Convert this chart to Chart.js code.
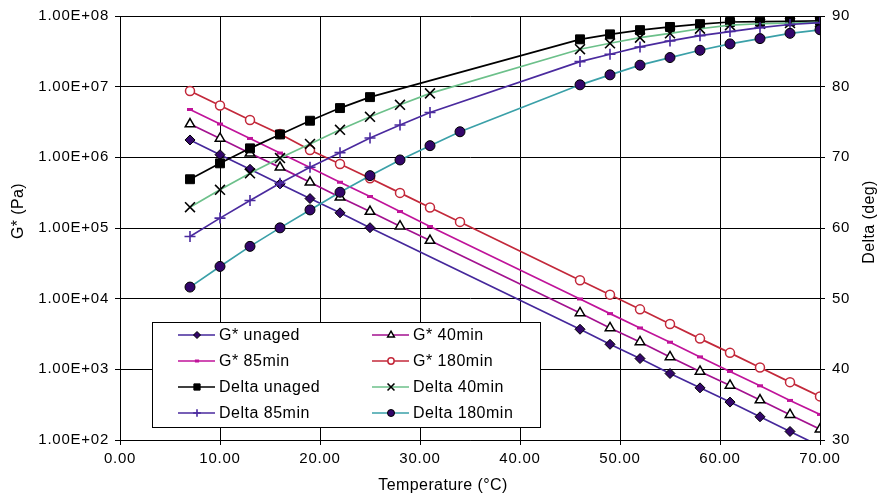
<!DOCTYPE html>
<html>
<head>
<meta charset="utf-8">
<title>G* and Delta vs Temperature</title>
<script src="https://cdn.jsdelivr.net/npm/chart.js@4.4.0/dist/chart.umd.min.js"></script>
<style>
    html, body { margin: 0; padding: 0; background: #fff; }
    #wrap { width: 879px; height: 497px; }
</style>
</head>
<body>
<div id="wrap"><canvas id="rheo" width="879" height="497"></canvas></div>
<script>
// test temperatures (°C) for each ageing time
var tempUnaged = [7, 10, 13, 16, 19, 22, 25, 46, 49, 52, 55, 58, 61, 64, 67, 70]
var temp40 = [7, 10, 13, 16, 19, 22, 25, 28, 31, 46, 49, 52, 55, 58, 61, 64, 67, 70]
var temp85 = [7, 10, 13, 16, 19, 22, 25, 28, 31, 46, 49, 52, 55, 58, 61, 64, 67, 70]
var temp180 = [7, 10, 13, 16, 19, 22, 25, 28, 31, 34, 46, 49, 52, 55, 58, 61, 64, 67, 70]

// complex modulus G* (Pa)
var gUnaged = [1.76e6, 1.09e6, 6.77e5, 4.2e5, 2.61e5, 1.64e5, 1.01e5,
    3690, 2260, 1420, 873, 547, 344, 213, 132, 82]
var g40 = [2.96e6, 1.85e6, 1.14e6, 7.21e5, 4.43e5, 2.72e5, 1.71e5, 1.06e5, 6.65e4,
    6270, 3850, 2440, 1500, 933, 592, 367, 228, 142]
var g85 = [4.75e6, 2.96e6, 1.85e6, 1.15e6, 7.2e5, 4.44e5, 2.79e5, 1.71e5, 1.05e5,
    9900, 6140, 3850, 2420, 1500, 933, 585, 363, 230]
var g180 = [8.7e6, 5.4e6, 3.37e6, 2.14e6, 1.27e6, 8.06e5, 5.05e5, 3.14e5, 1.95e5, 1.22e5,
    18200, 11400, 7060, 4380, 2720, 1710, 1060, 659, 414]

// phase angle Delta (deg)
var dUnaged = [66.9, 69.15, 71.27, 73.24, 75.18, 76.97, 78.52,
    86.7, 87.4, 88.0, 88.45, 88.85, 89.15, 89.2, 89.25, 89.3]
var d40 = [62.94, 65.4, 67.74, 69.9, 71.9, 73.9, 75.74, 77.43, 79.05,
    85.3, 86.14, 86.94, 87.55, 88.2, 88.7, 88.9, 89.0, 89.1]
var d85 = [58.8, 61.4, 63.9, 66.33, 68.59, 70.66, 72.73, 74.57, 76.35,
    83.55, 84.59, 85.62, 86.47, 87.22, 87.8, 88.35, 88.8, 89.05]
var d180 = [51.64, 54.56, 57.4, 60.02, 62.56, 65.06, 67.41, 69.63, 71.65, 73.62,
    80.26, 81.67, 83.04, 84.12, 85.15, 86.05, 86.8, 87.55, 88.05]

// axis ticks
var tempTicks = [0, 10, 20, 30, 40, 50, 60, 70]
var tempTickLabels = ['0.00', '10.00', '20.00', '30.00', '40.00', '50.00', '60.00', '70.00']
var gTicks = [1e2, 1e3, 1e4, 1e5, 1e6, 1e7, 1e8]
var gTickLabels = ['1.00E+02', '1.00E+03', '1.00E+04', '1.00E+05', '1.00E+06', '1.00E+07', '1.00E+08']
var deltaTicks = [30, 40, 50, 60, 70, 80, 90]

var FONT = "'Liberation Sans', Arial, Helvetica, sans-serif"

function pairs(xs, ys) {
    return xs.map(function(x, i) { return { x: x, y: ys[i] } })
}

function series(label, xs, ys, axis, color, marker) {
    return Object.assign({
        label: label,
        data: pairs(xs, ys),
        yAxisID: axis,
        showLine: true,
        borderColor: color,
        borderWidth: 1.7,
        tension: 0,
        fill: false
    }, marker)
}

var datasets = [
    series('G* unaged', tempUnaged, gUnaged, 'yG', '#45279b',
        { pointStyle: 'rectRot', pointRadius: 5, pointBackgroundColor: '#33066a', pointBorderColor: '#000', pointBorderWidth: 1 }),
    series('G* 40min', temp40, g40, 'yG', '#a3118f',
        { pointStyle: 'triangle', pointRadius: 5.5, pointBackgroundColor: '#fff', pointBorderColor: '#000', pointBorderWidth: 1.5 }),
    series('G* 85min', temp85, g85, 'yG', '#c0139a',
        { pointStyle: 'line', pointRadius: 3, pointBackgroundColor: '#c0139a', pointBorderColor: '#c0139a', pointBorderWidth: 3 }),
    series('G* 180min', temp180, g180, 'yG', '#c3283a',
        { pointStyle: 'circle', pointRadius: 4.5, pointBackgroundColor: '#fff', pointBorderColor: '#c3283a', pointBorderWidth: 1.5 }),
    series('Delta unaged', tempUnaged, dUnaged, 'yD', '#000',
        { pointStyle: 'rect', pointRadius: 6.3, pointBackgroundColor: '#000', pointBorderColor: '#000', pointBorderWidth: 1 }),
    series('Delta 40min', temp40, d40, 'yD', '#6cc08a',
        { pointStyle: 'crossRot', pointRadius: 7, pointBackgroundColor: '#000', pointBorderColor: '#000', pointBorderWidth: 1.6 }),
    series('Delta 85min', temp85, d85, 'yD', '#4a2a9e',
        { pointStyle: 'cross', pointRadius: 5.5, pointBackgroundColor: '#4a2a9e', pointBorderColor: '#4a2a9e', pointBorderWidth: 1.6 }),
    series('Delta 180min', temp180, d180, 'yD', '#3aa0a8',
        { pointStyle: 'circle', pointRadius: 5, pointBackgroundColor: '#33066a', pointBorderColor: '#000', pointBorderWidth: 1 })
]
// later series are painted over earlier ones
datasets.forEach(function(ds, i) { ds.order = datasets.length - i })

// slightly looser lettering for all chart text
var wideText = {
    id: 'wideText',
    beforeDraw: function(chart) { chart.ctx.letterSpacing = '0.75px' }
}

// boxed two-column legend inside the plot plus the axis titles
var boxLegend = {
    id: 'boxLegend',
    afterDraw: function(chart) {
        var ctx = chart.ctx
        ctx.save()
        ctx.fillStyle = '#fff'
        ctx.fillRect(152.5, 322.5, 388, 105)
        ctx.strokeStyle = '#000'
        ctx.lineWidth = 1
        ctx.strokeRect(152.5, 322.5, 388, 105)

        ctx.font = '16px ' + FONT
        ctx.letterSpacing = '0.5px'
        ctx.textBaseline = 'middle'
        ctx.textAlign = 'left'
        chart.data.datasets.forEach(function(ds, i) {
            var col = i % 2, row = Math.floor(i / 2)
            var x0 = col ? 372 : 178
            var y = 335 + row * 26
            ctx.strokeStyle = ds.borderColor
            ctx.lineWidth = 1.7
            ctx.beginPath()
            ctx.moveTo(x0, y)
            ctx.lineTo(x0 + 37, y)
            ctx.stroke()
            ctx.fillStyle = ds.pointBackgroundColor
            ctx.strokeStyle = ds.pointBorderColor
            ctx.lineWidth = ds.pointBorderWidth
            Chart.helpers.drawPoint(ctx, {
                pointStyle: ds.pointStyle,
                radius: ds.pointRadius * 0.7,
                rotation: 0,
                borderWidth: ds.pointBorderWidth
            }, x0 + 19, y)
            ctx.fillStyle = '#000'
            ctx.fillText(ds.label, x0 + 41, y + 1)
        })

        // axis titles
        ctx.fillStyle = '#000'
        ctx.font = '16px ' + FONT
        ctx.letterSpacing = '0.4px'
        ctx.textAlign = 'center'
        ctx.fillText('Temperature (°C)', 443, 486)
        ctx.save()
        ctx.translate(19, 211)
        ctx.rotate(-Math.PI / 2)
        ctx.fillText('G* (Pa)', 0, 0)
        ctx.restore()
        ctx.save()
        ctx.translate(870, 222)
        ctx.rotate(-Math.PI / 2)
        ctx.fillText('Delta (deg)', 0, 0)
        ctx.restore()
        ctx.restore()
    }
}

var tickFont = { family: FONT, size: 15 }

var ctx = document.getElementById('rheo').getContext('2d')
var rheoChart = new Chart(ctx, {
    type: 'scatter',
    data: { datasets: datasets },
    options: {
        responsive: false,
        devicePixelRatio: 1,
        animation: false,
        layout: { padding: { top: 15, left: 0, right: 0, bottom: 0 } },
        plugins: {
            legend: { display: false },
            tooltip: { enabled: false }
        },
        scales: {
            x: {
                type: 'linear',
                position: 'bottom',
                min: 0,
                max: 70,
                afterBuildTicks: function(axis) {
                    axis.ticks = tempTicks.map(function(v) { return { value: v } })
                },
                afterFit: function(axis) { axis.height = 57 },
                ticks: {
                    font: tickFont,
                    color: '#000',
                    padding: 5,
                    maxRotation: 0,
                    callback: function(v) { return tempTickLabels[tempTicks.indexOf(v)] }
                },
                grid: { color: '#000', lineWidth: 1, tickLength: 5 },
                border: { color: '#000', width: 1 }
            },
            yG: {
                type: 'logarithmic',
                position: 'left',
                min: 1e2,
                max: 1e8,
                afterBuildTicks: function(axis) {
                    axis.ticks = gTicks.map(function(v) { return { value: v, major: true } })
                },
                afterFit: function(axis) { axis.width = 120 },
                ticks: {
                    font: tickFont,
                    color: '#000',
                    padding: 6,
                    autoSkip: false,
                    callback: function(v) { return gTickLabels[gTicks.indexOf(v)] }
                },
                grid: { color: '#000', lineWidth: 1, tickLength: 5 },
                border: { color: '#000', width: 1 }
            },
            yD: {
                type: 'linear',
                position: 'right',
                min: 30,
                max: 90,
                afterBuildTicks: function(axis) {
                    axis.ticks = deltaTicks.map(function(v) { return { value: v } })
                },
                afterFit: function(axis) { axis.width = 59 },
                ticks: {
                    font: tickFont,
                    color: '#000',
                    padding: 7
                },
                grid: { drawOnChartArea: false, color: '#000', lineWidth: 1, tickLength: 5 },
                border: { color: '#000', width: 1 }
            }
        }
    },
    plugins: [wideText, boxLegend]
})
</script>
</body>
</html>
